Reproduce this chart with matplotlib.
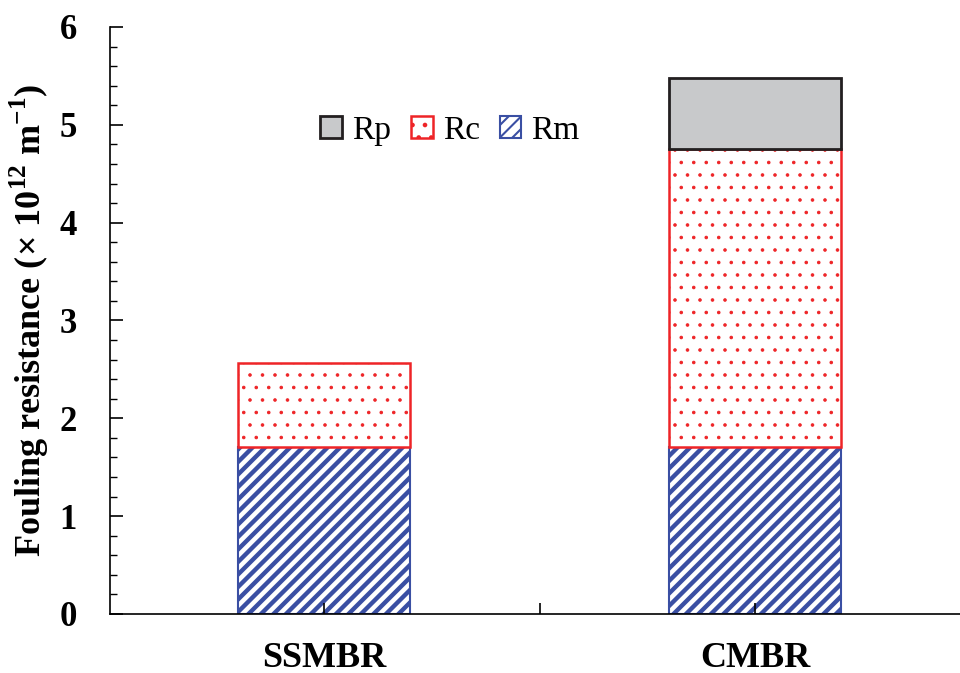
import numpy as np
import matplotlib
matplotlib.use("Agg")
import matplotlib.pyplot as plt
from matplotlib.ticker import MultipleLocator

# fouling resistance components, 10^12 m^-1
reactors = ["SSMBR", "CMBR"]
Rm = [1.71, 1.71]
Rc = [0.86, 3.04]
Rp = [0.0, 0.73]

# drawn at 150 dpi so the hatch spacing comes out right; k converts sizes
DPI = 150
k = 100 / DPI

plt.rcParams["font.family"] = ["Liberation Serif", "DejaVu Serif"]
plt.rcParams["mathtext.fontset"] = "custom"
plt.rcParams["mathtext.rm"] = "Liberation Serif"
plt.rcParams["mathtext.bf"] = "Liberation Serif:bold"

fig = plt.figure(figsize=(960 / DPI, 673 / DPI), dpi=DPI)
ax = fig.add_axes([0.1146, 0.0877, 0.8854, 0.8722])

x = np.arange(len(reactors))
w = 0.40
rm = np.array(Rm)
rc = np.array(Rc)
rp = np.array(Rp)

with plt.rc_context({"hatch.linewidth": 2.1}):
    b_m = ax.bar(x, rm, w, color="white", edgecolor="#3a4fa3", hatch="////",
                 linewidth=1.5 * k, label="Rm")
with plt.rc_context({"hatch.linewidth": 0.5}):
    b_c = ax.bar(x, rc, w, bottom=rm, color="white", edgecolor="#ee2427",
                 hatch="..", linewidth=1.8 * k, label="Rc")
keep = rp > 0
b_p = ax.bar(x[keep], rp[keep], w, bottom=(rm + rc)[keep], color="#c8c9cb",
             edgecolor="#231f20", linewidth=2.0 * k, label="Rp")

ax.set_xlim(-0.497, 1.476)
ax.set_ylim(0, 6)
ax.spines["top"].set_visible(False)
ax.spines["right"].set_visible(False)
for s in ("left", "bottom"):
    ax.spines[s].set_linewidth(1.2 * k)

ax.set_xticks(x)
ax.set_xticklabels(reactors, fontsize=26 * k, fontweight="bold")
ax.set_xticks([0.5], minor=True)
ax.tick_params(axis="x", which="both", direction="in", length=8 * k,
               width=1.2 * k, pad=20 * k)

ax.yaxis.set_major_locator(MultipleLocator(1))
ax.yaxis.set_minor_locator(MultipleLocator(0.2))
ax.tick_params(axis="y", which="major", direction="in", length=9 * k,
               width=1.2 * k, pad=24 * k, labelsize=25 * k)
ax.tick_params(axis="y", which="minor", direction="in", length=5 * k,
               width=1.0 * k)
for t in ax.get_yticklabels():
    t.set_fontweight("bold")

ax.set_ylabel("Fouling resistance (× 10$^{\\mathbf{12}}$ m$^{\\mathbf{-1}}$)",
              fontsize=26 * k, fontweight="bold")
ax.yaxis.set_label_coords(-0.07, 0.5)

ax.legend(handles=[b_p, b_c, b_m], loc="center", bbox_to_anchor=(0.4, 0.824),
          ncol=3, frameon=False, fontsize=24 * k, handlelength=0.65,
          handleheight=0.65, handletextpad=0.3, columnspacing=0.6)

fig.savefig("out.png", dpi=DPI)
